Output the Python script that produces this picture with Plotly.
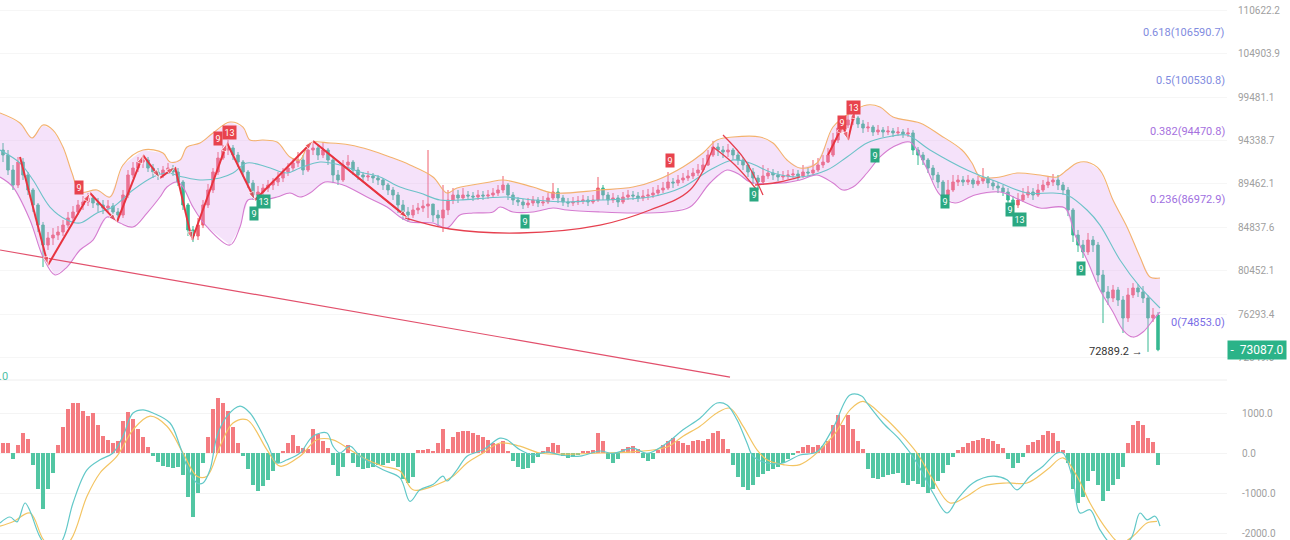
import math
import plotly.graph_objects as go

# ---------------- price data (candles, left to right) ----------------
first_open = 93250
closes = [
    92680, 91000, 89350, 91890, 90450, 88810, 87200, 85090, 83040, 83760,
    84060, 84370, 85090, 85830, 86460, 87200, 87520, 87950, 87410, 87200,
    86880, 87090, 86460, 86140, 88270, 90450, 91220, 91890, 92120, 91220,
    90780, 90450, 91000, 91220, 90780, 89680, 87200, 84580, 83960, 85090,
    87200, 88810, 90780, 92340, 93250, 93480, 92680, 91890, 90780, 89570,
    88270, 88590, 89020, 89350, 89680, 90120, 90780, 91220, 91780, 92120,
    91000, 93250, 93480, 92680, 93250, 92120, 90450, 89900, 91560, 91890,
    91000, 90450, 90230, 90340, 90120, 89900, 89350, 88810, 88270, 87200,
    86460, 86140, 86670, 86880, 87090, 87300, 86140, 85830, 86670, 87730,
    88270, 87950, 88270, 88160, 88050, 88270, 88160, 88270, 88480, 88810,
    89350, 88270, 87730, 87520, 87200, 87410, 87730, 87410, 87520, 87950,
    88590, 87950, 87520, 87410, 87520, 87620, 87730, 87520, 87730, 89020,
    88270, 87730, 87950, 87520, 88050, 88270, 88160, 87950, 88160, 88270,
    88480, 88810, 89020, 89680, 89570, 89900, 90120, 90340, 90670, 91000,
    91560, 92680, 93590, 93250, 93020, 93250, 92680, 92120, 91560, 90780,
    90120, 89680, 90340, 90670, 90450, 90230, 90340, 90450, 90560, 90340,
    90780, 90670, 91000, 91560, 91890, 92680, 94390, 95790, 96140, 96730,
    96960, 96260, 95790, 95900, 95320, 95550, 95320, 95440, 95210, 95320,
    95090, 95210, 93250, 92680, 92120, 91220, 90450, 89680, 88270, 88810,
    89680, 89900, 89680, 89900, 89460, 89790, 90120, 89570, 89240, 89020,
    88590, 87730, 87200, 87730, 88270, 88590, 88270, 88810, 89350, 89680,
    89900, 89350, 88810, 86670, 84060, 83040, 82340, 83550, 83040, 80060,
    78420, 77840, 78610, 77650, 75970, 78130, 78800, 78420, 77840, 75970,
    76240, 73087.0,
]
highs = [
    94050, 93250, 91560, 92460, 92340, 90780, 89020, 87410, 85410, 84370,
    84780, 84990, 85620, 86460, 87090, 87730, 88160, 88480, 88270, 87950,
    87730, 87730, 87410, 86880, 88810, 91000, 91890, 92460, 92680, 92460,
    91670, 91220, 91450, 91780, 91560, 91220, 89900, 87410, 84990, 85830,
    87730, 89460, 91220, 93020, 93820, 94390, 93820, 93020, 92120, 91000,
    89900, 89240, 89460, 89900, 90120, 90780, 91220, 91780, 92340, 93020,
    92680, 93820, 94280, 93820, 94160, 93480, 92340, 91000, 92120, 92680,
    92120, 91340, 90780, 90890, 90670, 90450, 90120, 89570, 89130, 88590,
    87730, 86980, 87200, 87410, 87730, 93250, 86980, 86670, 89350, 88810,
    89020, 88810, 89020, 88700, 88590, 88810, 88700, 88810, 89020, 89350,
    90340, 89570, 88590, 88050, 87840, 87950, 88160, 88050, 88160, 88480,
    89570, 89020, 88270, 87950, 88050, 88160, 88270, 88160, 88270, 90230,
    89350, 88590, 88480, 88270, 88590, 88810, 88700, 88590, 88810, 88920,
    89130, 89350, 89680, 90780, 90120, 90450, 90670, 91000, 91220, 91670,
    92340, 93250, 94280, 94050, 93710, 93940, 93480, 93020, 92460, 91890,
    91220, 90450, 91560, 91220, 91110, 90890, 90890, 91000, 91110, 91000,
    91560, 91340, 92120, 92340, 92680, 93480, 95210, 96490, 96960, 97440,
    98150, 97200, 96730, 96490, 96140, 96140, 95900, 96020, 95790, 95900,
    95670, 95790, 95550, 93590, 93020, 92340, 91560, 90780, 89900, 89900,
    90450, 90450, 90340, 90450, 90120, 90340, 91220, 90340, 89900, 89680,
    89350, 89020, 88160, 88480, 89020, 89240, 89020, 89460, 89900, 90230,
    90560, 90450, 89680, 89130, 86880, 84580, 83550, 84270, 83960, 83350,
    80550, 78990, 79090, 78900, 78030, 78800, 79280, 79180, 78990, 78130,
    76900, 76520,
]
lows = [
    91890, 90450, 88810, 89020, 89900, 88270, 86460, 84370, 80840, 82540,
    83040, 83550, 83960, 84780, 85410, 86140, 86670, 87090, 86880, 86460,
    86240, 86460, 85830, 85510, 85830, 87950, 90120, 90780, 91220, 90780,
    90120, 89900, 90120, 90560, 90340, 89240, 86670, 83960, 83350, 83550,
    84780, 86880, 88480, 90450, 92120, 92680, 92120, 91340, 90230, 89020,
    87730, 87950, 88160, 88590, 88810, 89240, 89680, 90340, 90890, 91340,
    90450, 90780, 92680, 92120, 92340, 91560, 89570, 89350, 89680, 91220,
    90450, 89900, 89680, 89790, 89570, 89350, 88810, 88270, 87730, 86350,
    85620, 85410, 85830, 86240, 86460, 85830, 85410, 84990, 84370, 86140,
    87300, 87410, 87730, 87730, 87620, 87730, 87730, 87840, 87950, 88160,
    88480, 87730, 87200, 87090, 86770, 86880, 87090, 86980, 87090, 87300,
    87730, 87410, 87090, 86980, 87090, 87200, 87300, 87090, 87300, 87520,
    87730, 87200, 87410, 86980, 87300, 87730, 87730, 87520, 87620, 87730,
    87950, 88160, 88480, 88810, 89020, 89240, 89570, 89790, 90010, 90340,
    90780, 91450, 92460, 92570, 92340, 92460, 92120, 91560, 91000, 90230,
    89460, 88810, 89350, 90010, 89900, 89790, 89900, 90010, 90120, 89900,
    90120, 90230, 90340, 90780, 91220, 91780, 92460, 94050, 95320, 95790,
    96140, 95790, 95210, 95320, 94860, 94970, 94740, 94970, 94740, 94860,
    94630, 94740, 92680, 91560, 91560, 90670, 89900, 89020, 87200, 87950,
    88590, 89240, 89240, 89350, 89020, 89240, 89460, 89020, 88810, 88480,
    88160, 87200, 86460, 86880, 87520, 87950, 87730, 88050, 88590, 89020,
    89240, 88810, 88270, 86030, 83350, 82340, 81740, 82040, 82340, 79380,
    75500, 77180, 77460, 77090, 74590, 75600, 77840, 77940, 77370, 72889.2,
    75600, 72950,
]

# ---------------- Bollinger bands (read at sample candle positions) ----------------
bb_upper_x = [-0.6, 3.4, 5.8, 8, 10, 12, 13.8, 15.4, 18.8, 21.4, 24, 28, 32, 33.4, 35.4, 36.8,
              39.4, 42, 45.4, 48, 49.4, 52, 54.8, 57.4, 59.4, 61.4, 65.4, 69.4, 73.4, 77.4,
              81.4, 86, 88.8, 90.8, 97.4, 100, 106, 110, 119.4, 126, 130.8, 136, 140, 142.8,
              146, 151.4, 154, 156.8, 159.4, 162.8, 166, 169.4, 172.8, 175.4, 178, 183.4,
              187.4, 191.8, 193.8, 195.4, 199.4, 202.8, 207.4, 210.8, 212.8, 214.8, 216.8,
              219.4, 222, 224.8, 227.4, 229.4, 231.4]
bb_upper = [97560, 96370, 94630, 96140, 95550, 93590, 90670, 88590, 88810, 88050, 91560, 93250,
            92910, 91890, 92120, 93590, 94050, 95210, 96490, 95900, 94390, 94390, 94160, 92460,
            92120, 94050, 94050, 93820, 93250, 92460, 91560, 90230, 88480, 89020, 89680, 89900,
            89130, 88480, 88810, 89130, 89900, 91340, 92910, 94390, 94740, 94740, 94050, 92120,
            91220, 91780, 95900, 97560, 98510, 98270, 97080, 96370, 94970, 93250, 91780, 90230,
            90230, 90670, 90450, 90230, 91000, 91780, 91890, 91000, 87730, 84890, 81840, 79860,
            79770]
bb_mid_x = [-0.6, 3.4, 6, 9.4, 12.8, 15.4, 18.8, 22, 26, 30, 32.8, 36, 39.4, 43.4, 46, 48.8,
            52.8, 56.8, 59.4, 63.4, 67.4, 71.4, 75.4, 79.4, 83.4, 87.4, 91.4, 96.8, 100.8, 106,
            112.8, 119.4, 129.4, 136, 141.4, 146, 149.4, 154, 159.4, 164.8, 168.8, 172.8, 176.8,
            180.8, 185.4, 192.8, 199.4, 204.8, 210, 212.8, 216.8, 219.4, 223.4, 227.4, 231.4]
bb_mid = [93250, 91780, 89900, 86980, 85620, 85300, 86350, 86980, 88810, 90230, 90670, 90230,
          89900, 90120, 90670, 91780, 91340, 90670, 91220, 91890, 91560, 90780, 90230, 89130,
          88480, 87730, 87730, 87950, 88050, 87730, 87520, 87730, 88050, 89130, 91000, 92120,
          91780, 90670, 90230, 91000, 92460, 94050, 94740, 94970, 93250, 91000, 89570, 88480,
          88480, 88270, 86670, 85090, 81540, 78900, 76900]
bb_lower_x = [-0.6, 2, 5.4, 8, 10.4, 12.8, 15.4, 18, 20.8, 23.4, 26, 28.8, 31.4, 32.8, 34.8, 36,
              38, 40.8, 45.4, 47.4, 49, 52, 54.8, 57.4, 59.4, 61.4, 64.4, 68, 72.8, 76.8, 79.4,
              81.4, 86, 88.8, 91.4, 94, 98, 99.4, 102, 106, 110, 112.8, 119.4, 126, 132.8, 137.4,
              141.4, 144.8, 147.4, 149.4, 156, 159.4, 162.8, 166, 168, 170, 172.8, 175.4, 178,
              181.4, 184.4, 187.4, 190.4, 194.4, 199.4, 203.4, 207.4, 212.4, 214.4, 216.8, 219.4,
              222, 224, 226, 228, 230, 231.4]
bb_lower = [90230, 89130, 85620, 81840, 80060, 80840, 82540, 83550, 85930, 85300, 84890, 86350,
            88050, 89130, 89680, 89130, 86980, 84890, 83040, 84890, 87730, 87730, 88050, 88480,
            88050, 88480, 89680, 89350, 88050, 86980, 85930, 85410, 85300, 84780, 86140, 86350,
            86460, 86980, 86460, 86460, 86880, 86670, 86460, 86350, 86460, 86980, 89570, 91000,
            90450, 89680, 89570, 89900, 90450, 89570, 88810, 89130, 90670, 92460, 93590, 94160,
            91560, 88270, 87410, 88270, 88590, 87730, 86880, 86880, 84060, 81540, 78610, 76520,
            74860, 74220, 74680, 75780, 76520]

# ---------------- MACD ----------------
macd_hist = [
    250, 260, -150, 200, 500, 350, -300, -900, -1400, -900,
    -500, 200, 650, 1100, 1250, 1250, 1050, 920, 1000, 700,
    420, 330, 250, 300, 800, 1020, 850, 600, 400, 150,
    -80, -220, -320, -360, -380, -340, -550, -1100, -1600, -1000,
    -250, 400, 1100, 1380, 1250, 1050, 650, 250, -80, -400,
    -800, -950, -820, -680, -450, -250, 50, 250, 450, 180,
    120, 100, 600, 480, 300, 120, -300, -580, -350, 200,
    -250, -350, -400, -380, -350, -300, -300, -250, -200, -350,
    -650, -750, -600, 80, 80, 90, 50, 250, 600, 100,
    400, 520, 540, 540, 500, 450, 400, 320, 250, 220,
    300, 50, -200, -350, -400, -380, -250, -100, 50, 150,
    250, 200, -80, -120, -100, -60, 60, 60, 80, 500,
    300, -150, -250, -150, 100, 150, 180, 100, -120, -200,
    -150, 80, 200, 300, 380, 300, 250, 200, 300, 330,
    300, 350, 500, 540, 350, 100, -300, -600, -850, -920,
    -800, -600, -520, -450, -400, -350, -250, -150, -60, 50,
    150, 200, 150, 200, 180, 300, 700, 960, 700, 950,
    600, 300, 100, -400, -620, -650, -600, -560, -520, -500,
    -750, -800, -700, -780, -850, -1000, -900, -700, -500, -300,
    -100, 80, 150, 250, 290, 330, 375, 350, 300, 220,
    120, -150, -375, -250, -100, 200, 280, 330, 450, 540,
    500, 300, 80, -250, -900, -1250, -1100, -700, -450, -800,
    -1200, -950, -800, -650, -350, 250, 700, 790, 700, 380,
    280, -290,
]
dif_x = [-0.6, 1.4, 2.8, 4.4, 5.4, 7.4, 9.8, 12, 14, 16.8, 19.4, 22, 24, 26, 28, 30, 33.4, 35.4,
         36.8, 38.8, 40, 41.4, 42.8, 44.8, 47.4, 49.4, 52.8, 54.8, 56.8, 59.4, 62, 64.8, 66, 67.4,
         69.4, 71.4, 76, 79.4, 81.4, 83.4, 86, 88, 88.8, 90.8, 92.8, 96, 99.4, 100.8, 103.4, 106,
         108.8, 111.4, 115.4, 119.4, 122, 126, 128.8, 132.8, 136, 139.4, 142.8, 144.8, 146.8,
         148.8, 150, 152.8, 156, 159.4, 162.8, 166, 169.4, 171.8, 172.8, 176, 179.4, 182.8, 186,
         188.8, 190.8, 194, 198, 200.8, 202.8, 205.4, 208, 210.8, 212, 214, 215.4, 217.4, 219.4,
         222, 225.4, 227.4, 228.8, 230.4, 231.4]
dif = [-1750, -1600, -1720, -1250, -1450, -2100, -2500, -2150, -1250, -420, -170, 0, 420, 1000,
       1080, 1000, 750, 170, -330, -750, -750, -420, 420, 920, 1170, 1000, 250, -250, -170, 0,
       420, 500, 170, 0, 170, -80, -420, -620, -1210, -920, -790, -580, -700, -420, -80, 80, 370,
       330, 80, -50, 30, -50, -80, 50, -10, 120, -10, 250, 580, 870, 1250, 1200, 830, 250, -80,
       -250, -250, -50, 30, 620, 1450, 1420, 1250, 750, 330, -250, -1000, -1500, -1170, -750,
       -580, -670, -920, -580, -330, 0, 0, -670, -1500, -1420, -1920, -2300, -2170, -1500, -1670,
       -1580, -1830]
dea_x = [-0.6, 2, 5.4, 8, 10.4, 13.4, 16.8, 19.4, 22.8, 26, 29.4, 32.8, 36, 38.8, 40.8, 43.4,
         46, 48.8, 52.8, 55.4, 59.4, 62.8, 66, 69.4, 72.8, 76, 79.4, 82, 86, 90, 92.8, 96, 99.4,
         103.4, 107.4, 112.8, 119.4, 126, 132.8, 136, 139.4, 142.8, 145.4, 148, 150.8, 152.8, 156,
         159.4, 166, 169.4, 172, 176, 179.4, 182.8, 186, 189.4, 192.8, 196, 200.8, 204.8, 208.8,
         212, 214.8, 217.4, 220.8, 223.4, 226, 228.8, 230.8]
dea = [-1830, -1720, -1500, -2150, -2450, -2200, -1080, -500, -80, 580, 920, 670, 0, -580, -580,
       170, 750, 830, 80, -330, -80, 330, 330, 80, -170, -330, -450, -920, -830, -580, -250, 0,
       250, 170, 0, -30, 0, 30, 150, 420, 670, 1000, 1120, 670, 80, -170, -290, -290, 420, 1080,
       1290, 920, 500, 0, -670, -1250, -1080, -830, -750, -750, -420, -120, -580, -1250, -1920,
       -2250, -2080, -1750, -1710]

# ---------------- Fibonacci levels and axis ticks ----------------
fib_levels = ["0.618", "0.5", "0.382", "0.236", "0"]
fib_prices = [106590.7, 100530.8, 94470.8, 86972.9, 74853.0]
price_ticks = [110622.2, 104903.9, 99481.1, 94338.7, 89462.1, 84837.6, 80452.1, 76293.4, 72349.0]
macd_ticks = [1000, 0, -1000, -2000]

# ---------------- drawings ----------------
zigzag_x = [3.4, 9, 17.4, 22.8, 28, 31.4, 34.4, 37.8, 44.8, 50.4, 62, 81]
zigzag_y = [92460, 81040, 88480, 85410, 92680, 90120, 91340, 83550, 94050, 87730, 94280, 85830]
thin_x = [63, 81.4]
thin_y = [93820, 85620]
cup_x = [80.4, 89.4, 103.4, 119.4, 129.4, 137.4, 142]
cup_y = [85830, 84680, 84270, 85090, 86670, 88810, 93480]
curve1_x = [142, 146.4, 150.8]
curve1_y = [93590, 91560, 88810]
curve2_x = [144, 148.4, 152]
curve2_y = [94970, 92120, 88270]
arc_x = [150.4, 155.4, 159.4]
arc_y = [89350, 89680, 90230]
up_x = [165, 168, 169, 170.4]
up_y = [92680, 96140, 94390, 97910]
trend_x = [-0.6, 145.4]
trend_y = [82540, 70686]

td_red = [(15.2, 89130, "9"), (43, 94620, "9"), (45.2, 95320, "13"), (133.4, 92120, "9"),
          (167.8, 96490, "9"), (170, 98270, "13")]
td_green = [(50.2, 86350, "9"), (52, 87620, "13"), (104.4, 85410, "9"), (150.2, 88270, "9"),
            (174.4, 92680, "9"), (188.4, 87520, "9"), (201.4, 86770, "9"), (203.2, 85620, "13"),
            (215.6, 80740, "9")]

RED = "#ef5f6d"
GREEN = "#36b891"
H_RED = "#f47b80"
H_GREEN = "#52c6a3"

opens = [first_open] + closes[:-1]
highs = [max(h, o, c) for h, o, c in zip(highs, opens, closes)]
lows = [min(l, o, c) for l, o, c in zip(lows, opens, closes)]
idx = list(range(len(closes)))

fig = go.Figure()

# Bollinger fill
fig.add_trace(go.Scatter(
    x=bb_upper_x + bb_lower_x[::-1], y=bb_upper + bb_lower[::-1],
    fill="toself", fillcolor="rgba(222,160,238,0.30)", line=dict(width=0),
    mode="lines", hoverinfo="skip", showlegend=False, xaxis="x", yaxis="y"))
fig.add_trace(go.Scatter(x=bb_upper_x, y=bb_upper, mode="lines",
                         line=dict(color="#f3b26e", width=1.1, shape="spline"),
                         showlegend=False, xaxis="x", yaxis="y"))
fig.add_trace(go.Scatter(x=bb_mid_x, y=bb_mid, mode="lines",
                         line=dict(color="#6cc2c8", width=1.1, shape="spline"),
                         showlegend=False, xaxis="x", yaxis="y"))
fig.add_trace(go.Scatter(x=bb_lower_x, y=bb_lower, mode="lines",
                         line=dict(color="#d57cd0", width=1.1, shape="spline"),
                         showlegend=False, xaxis="x", yaxis="y"))

# long trend line
fig.add_trace(go.Scatter(x=trend_x, y=trend_y, mode="lines",
                         line=dict(color="#e2506c", width=1.2),
                         showlegend=False, xaxis="x", yaxis="y"))

# candles
fig.add_trace(go.Candlestick(
    x=idx, open=opens, high=highs, low=lows, close=closes,
    increasing=dict(line=dict(color=RED, width=1), fillcolor=RED),
    decreasing=dict(line=dict(color=GREEN, width=1), fillcolor=GREEN),
    whiskerwidth=0, showlegend=False, xaxis="x", yaxis="y"))

# curves
for cx, cy, w in [(cup_x, cup_y, 1.3), (curve1_x, curve1_y, 1.3), (curve2_x, curve2_y, 1.3),
                  (arc_x, arc_y, 1.3), (thin_x, thin_y, 1.2)]:
    fig.add_trace(go.Scatter(x=cx, y=cy, mode="lines",
                             line=dict(color="#e6404f", width=w, shape="spline"),
                             showlegend=False, xaxis="x", yaxis="y"))

# zigzag arrows
for zx, zy in [(zigzag_x, zigzag_y), (up_x, up_y)]:
    fig.add_trace(go.Scatter(
        x=zx, y=zy, mode="lines+markers",
        line=dict(color="#e8333f", width=2),
        marker=dict(symbol="arrow", angleref="previous", color="#e8333f",
                    size=[0] + [9] * (len(zx) - 1)),
        showlegend=False, xaxis="x", yaxis="y"))

# MACD
fig.add_trace(go.Bar(x=list(range(len(macd_hist))), y=macd_hist,
                     marker=dict(color=[H_RED if v >= 0 else H_GREEN for v in macd_hist],
                                 line=dict(width=0)),
                     width=0.72, showlegend=False, xaxis="x2", yaxis="y2"))
fig.add_trace(go.Scatter(x=dea_x, y=dea, mode="lines",
                         line=dict(color="#f3c462", width=1.2, shape="spline"),
                         showlegend=False, xaxis="x2", yaxis="y2"))
fig.add_trace(go.Scatter(x=dif_x, y=dif, mode="lines",
                         line=dict(color="#62c8c8", width=1.2, shape="spline"),
                         showlegend=False, xaxis="x2", yaxis="y2"))

# Fibonacci lines & labels
fib_line_colors = ["#8fb2ec", "#8fb2ec", "#c57de6", "#c57de6", "#7f74ee"]
fib_text_colors = ["#7f8be0", "#7f8be0", "#a671de", "#a06fdf", "#7a6de6"]
fib_widths = [1.5, 1.5, 2, 2, 1.5]
shapes = []
annotations = []
for lvl, p, lc, tc, w in zip(fib_levels, fib_prices, fib_line_colors, fib_text_colors, fib_widths):
    shapes.append(dict(type="line", xref="paper", x0=0, x1=1, yref="y",
                       y0=math.log10(p), y1=math.log10(p),
                       line=dict(color=lc, width=w), layer="above"))
    annotations.append(dict(xref="paper", x=1, xanchor="right", yref="y", y=math.log10(p),
                            yanchor="bottom", text=f"{lvl}({p:.1f})", showarrow=False,
                            font=dict(color=tc, size=11, family="Roboto"), yshift=-1))

# panel separator
shapes.append(dict(type="line", xref="paper", x0=0, x1=1, yref="paper",
                   y0=1 - 380 / 540, y1=1 - 380 / 540, line=dict(color="#eeeeee", width=1)))

# TD badges
for bx, bp, t in td_red:
    annotations.append(dict(x=bx, y=math.log10(bp), xref="x", yref="y", text=t, showarrow=False,
                            bgcolor="#e8434d", font=dict(color="white", size=9, family="Roboto"),
                            borderpad=1.5))
for bx, bp, t in td_green:
    annotations.append(dict(x=bx, y=math.log10(bp), xref="x", yref="y", text=t, showarrow=False,
                            bgcolor="#2aa881", font=dict(color="white", size=9, family="Roboto"),
                            borderpad=1.5))

# lowest low label
low_val = min(lows)
low_i = lows.index(low_val)
annotations.append(dict(x=low_i, y=math.log10(low_val), xref="x", yref="y", xanchor="right",
                        text=f"{low_val:.1f} →", showarrow=False, xshift=-3,
                        font=dict(color="#333333", size=11, family="Roboto")))
# last price badge
last = closes[-1]
annotations.append(dict(xref="paper", x=1, xanchor="left", yref="y", y=math.log10(last),
                        text=f"-  {last:.1f}", showarrow=False, bgcolor="#2bb388",
                        font=dict(color="white", size=12, family="Roboto"), borderpad=2,
                        width=54))
# MACD header fragment
annotations.append(dict(xref="paper", x=0, xanchor="left", yref="paper", y=1 - 385 / 540,
                        text=".0", showarrow=False, xshift=-3,
                        font=dict(color="#4fbfa6", size=11, family="Roboto")))

x_range = [-0.6, 244.8]
fig.update_layout(
    width=1290, height=540,
    margin=dict(l=0, r=63, t=0, b=0),
    paper_bgcolor="white", plot_bgcolor="white",
    showlegend=False, bargap=0,
    xaxis=dict(domain=[0, 1], range=x_range, visible=False, anchor="y",
               rangeslider=dict(visible=False)),
    xaxis2=dict(domain=[0, 1], range=x_range, visible=False, anchor="y2", matches="x"),
    yaxis=dict(type="log", domain=[1 - 380 / 540, 1],
               range=[math.log10(70432), math.log10(111980)],
               side="right", anchor="x", tickmode="array", tickvals=price_ticks,
               ticktext=[f"{v:.1f}" for v in price_ticks], ticks="",
               tickfont=dict(color="#a0a0a0", size=10, family="Roboto"),
               showgrid=True, gridcolor="#f6f6f6", zeroline=False, showline=False,
               automargin=False, ticklabelstandoff=10),
    yaxis2=dict(domain=[0, 155 / 540], range=[-2175, 1700], side="right", anchor="x2",
                tickmode="array", tickvals=macd_ticks,
                ticktext=[f"{v:.1f}" for v in macd_ticks], ticks="",
                tickfont=dict(color="#a0a0a0", size=10, family="Roboto"),
                showgrid=True, gridcolor="#f4f4f4", zeroline=False, showline=False,
                automargin=False, ticklabelstandoff=14),
    shapes=shapes, annotations=annotations,
)

fig.write_html("out.html", config={"displayModeBar": False},
               post_script="document.body.style.margin='0px';")
